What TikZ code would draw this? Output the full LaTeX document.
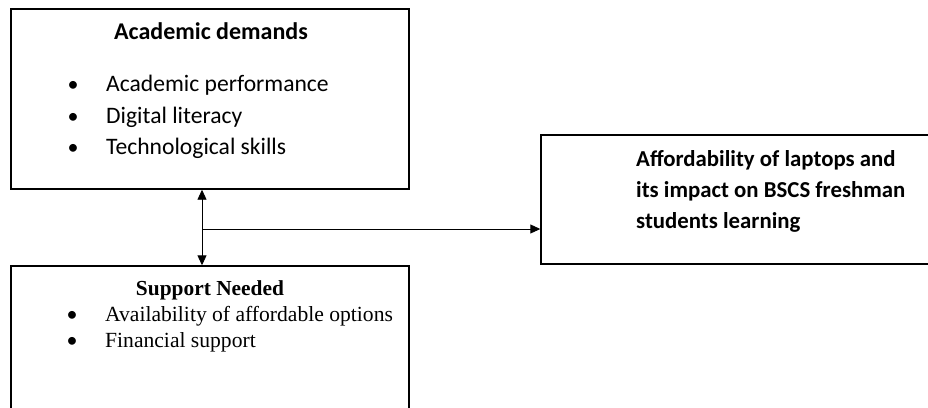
\documentclass[tikz,border=0pt]{standalone}
\usepackage{fontspec}
\setmainfont{Carlito}
\newfontfamily\tnr{Liberation Serif}
\usetikzlibrary{arrows.meta}
\tikzset{
  box/.style={draw=black, line width=1.4pt, minimum width=#1, inner sep=0pt},
  txt/.style={inner sep=0pt, anchor=base west, font=\fontsize{23.6}{28}\selectfont},
  ttl/.style={inner sep=0pt, anchor=base, font=\fontsize{24}{28}\selectfont\bfseries},
  stxt/.style={inner sep=0pt, anchor=base west, font=\tnr\fontsize{21.6}{26}\selectfont},
  sttl/.style={inner sep=0pt, anchor=base, font=\tnr\fontsize{21.4}{26}\selectfont\bfseries},
  btxt/.style={inner sep=0pt, anchor=base west, font=\fontsize{22.8}{26}\selectfont\bfseries},
  bul/.style={inner sep=0pt, anchor=base, font=\fontsize{22}{26}\selectfont},
  conn/.style={line width=0.9pt, black},
  tip/.style={-{Triangle[length=10pt,width=9pt]}}
}
\begin{document}
\begin{tikzpicture}[x=1pt,y=-1pt]
\useasboundingbox (0,0) rectangle (928,407);
\fill[white] (0,0) rectangle (928,407);
% boxes
\node[box=398pt, minimum height=180pt] (demands) at (210,99) {};
\node[box=398pt, minimum height=150pt] (support) at (210,341) {};
\node[box=396pt, minimum height=129pt] (afford) at (739,199.5) {};
% box 1 text
\node[ttl] (t1) at (211,39) {Academic demands};
\node[bul] (b11) at (73,91) {•};
\node[txt] (i11) at (106,91) {Academic performance};
\node[bul] (b12) at (73,123) {•};
\node[txt] (i12) at (106,123) {Digital literacy};
\node[bul] (b13) at (73,154) {•};
\node[txt] (i13) at (106,154) {Technological skills};
% box 2 text
\node[sttl] (t2) at (210,295) {Support Needed};
\node[bul] (b21) at (72,321) {•};
\node[stxt] (i21) at (105,321) {Availability of affordable options};
\node[bul] (b22) at (72,347) {•};
\node[stxt] (i22) at (105,347) {Financial support};
% box 3 text
\node[btxt] (l31) at (636,166) {Affordability of laptops and};
\node[btxt] (l32) at (636,197) {its impact on BSCS freshman};
\node[btxt] (l33) at (636,228) {students learning};
% connectors
\coordinate (j) at (202,229);
\draw[conn, {Triangle[length=10pt,width=9pt]}-{Triangle[length=10pt,width=9pt]}] (demands.south -| j) -- (support.north -| j);
\draw[conn, tip] (j) -- (j -| afford.west);
\end{tikzpicture}
\end{document}
